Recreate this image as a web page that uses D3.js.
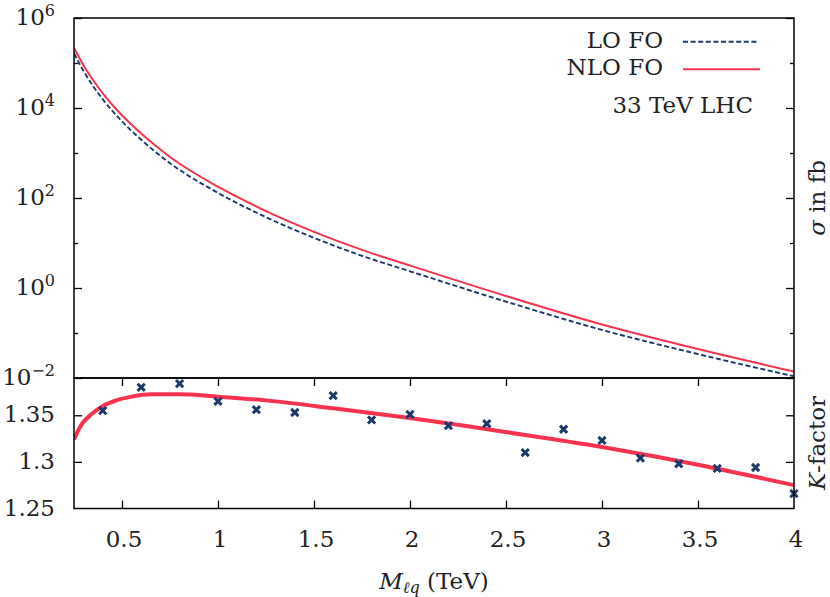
<!DOCTYPE html>
<meta charset="utf-8">
<head>
    <script type="text/javascript" src="https://cdn.jsdelivr.net/npm/d3@7"></script>
    <style>
        body { margin: 0; background: #fff; }
        .tick line { stroke: #000; stroke-width: 1.3; }
    </style>
</head>
<body>
<div id="chart"></div>
</body>
<script>

    // cross sections in fb
    var massPts  = [0.25, 0.3, 0.35, 0.4, 0.5, 0.6, 0.75, 1.0, 1.25, 1.5, 1.75, 2.0, 2.5, 3.0, 3.5, 4.0];
    var sigmaNLO = [2.15e5, 8.85e4, 4.13e4, 2.12e4, 6.88e3, 2.70e3, 815, 178, 51.2, 17.7, 7.03, 3.16, 0.664, 0.155, 0.0441, 0.0139];
    var sigmaLO  = [1.63e5, 6.59e4, 3.05e4, 1.56e4, 5.04e3, 1.97e3, 594, 130, 37.5, 13.0, 5.19, 2.35, 0.498, 0.117, 0.0340, 0.0109];

    // K-factor curve and points, lower panel
    var kCurveMass = [0.25, 0.28, 0.3, 0.34, 0.4, 0.47, 0.55, 0.65, 0.8, 1.0, 1.25, 1.6, 2.0, 2.5, 3.0, 3.5, 4.0];
    var kCurve     = [1.324, 1.337, 1.343, 1.351, 1.360, 1.366, 1.370, 1.3725, 1.3725, 1.370, 1.366, 1.3575, 1.347, 1.332, 1.316, 1.297, 1.275];
    var kPointMass = [0.4, 0.6, 0.8, 1.0, 1.2, 1.4, 1.6, 1.8, 2.0, 2.2, 2.4, 2.6, 2.8, 3.0, 3.2, 3.4, 3.6, 3.8, 4.0];
    var kPoints    = [1.355, 1.380, 1.384, 1.365, 1.356, 1.353, 1.371, 1.345, 1.351, 1.339, 1.341, 1.310, 1.335, 1.323, 1.304, 1.298, 1.293, 1.294, 1.266];

    // ticks
    var xTicks = [0.5, 1, 1.5, 2, 2.5, 3, 3.5, 4];
    var xTickLabels = ["0.5", "1", "1.5", "2", "2.5", "3", "3.5", "4"];
    var sigmaTicks = [1e-2, 1e0, 1e2, 1e4, 1e6];
    var sigmaTickExp = ["\u22122", "0", "2", "4", "6"];
    var sigmaMinor = [1e-1, 1e1, 1e3, 1e5];
    var kTicks = [1.25, 1.3, 1.35];
    var kTickLabels = ["1.25", "1.3", "1.35"];

    var width = 830, height = 597;
    var padL = 74, padR = 794, padT = 18, split = 378, padB = 508.5;

    var red = "#f7334f", navy = "#1b3a6b";
    var serif = "'DejaVu Serif', 'Liberation Serif', serif";
    var fs = "23px", fsSmall = "16px";

    var svg = d3.select("#chart").append("svg")
        .attr("width", width)
        .attr("height", height)
        .attr("font-family", serif)
        .style("font-family", serif)
        .style("fill", "#222");

    var x = d3.scaleLinear().domain([0.25, 4]).range([padL, padR]);
    var ySig = d3.scaleLog().domain([1e-2, 1e6]).range([split, padT]);
    var yK = d3.scaleLinear().domain([1.25, 1.39]).range([padB, split]);

    svg.append("clipPath").attr("id", "clipTop")
        .append("rect").attr("x", padL).attr("y", padT).attr("width", padR - padL).attr("height", split - padT);
    svg.append("clipPath").attr("id", "clipBot")
        .append("rect").attr("x", padL).attr("y", split).attr("width", padR - padL).attr("height", padB - split);

    // ---- axes ticks
    function ticksOnly(g) { g.select(".domain").remove(); }

    svg.append("g").attr("transform", "translate(" + padL + ",0)")
        .call(d3.axisLeft(ySig).tickValues(sigmaTicks).tickSize(-8).tickFormat("")).call(ticksOnly);
    svg.append("g").attr("transform", "translate(" + padL + ",0)")
        .call(d3.axisLeft(ySig).tickValues(sigmaMinor).tickSize(-4).tickFormat("")).call(ticksOnly);
    svg.append("g").attr("transform", "translate(" + padR + ",0)")
        .call(d3.axisRight(ySig).tickValues(sigmaTicks).tickSize(-8).tickFormat("")).call(ticksOnly);
    svg.append("g").attr("transform", "translate(" + padR + ",0)")
        .call(d3.axisRight(ySig).tickValues(sigmaMinor).tickSize(-4).tickFormat("")).call(ticksOnly);

    svg.append("g").attr("transform", "translate(" + padL + ",0)")
        .call(d3.axisLeft(yK).tickValues([1.3, 1.35]).tickSize(-8).tickFormat("")).call(ticksOnly);
    svg.append("g").attr("transform", "translate(" + padR + ",0)")
        .call(d3.axisRight(yK).tickValues([1.3, 1.35]).tickSize(-8).tickFormat("")).call(ticksOnly);

    svg.append("g").attr("transform", "translate(0," + padB + ")")
        .call(d3.axisBottom(x).tickValues(xTicks.slice(0, -1)).tickSize(-8).tickFormat("")).call(ticksOnly);
    svg.append("g").attr("transform", "translate(0," + split + ")")
        .call(d3.axisTop(x).tickValues(xTicks.slice(0, -1)).tickSize(-8).tickFormat("")).call(ticksOnly);

    // ---- tick labels
    var sigLab = svg.append("g").selectAll("text").data(sigmaTicks).enter().append("text")
        .attr("x", 55).attr("y", d => ySig(d) + 7)
        .attr("text-anchor", "end").style("font-size", fs);
    sigLab.append("tspan").text("10");
    sigLab.append("tspan").attr("dy", -9).style("font-size", fsSmall).text((d, i) => sigmaTickExp[i]);

    svg.append("g").selectAll("text").data(kTicks).enter().append("text")
        .attr("x", 55).attr("y", d => yK(d) + 7)
        .attr("text-anchor", "end").style("font-size", fs)
        .text((d, i) => kTickLabels[i]);

    svg.append("g").selectAll("text").data(xTicks).enter().append("text")
        .attr("x", d => x(d) + 2).attr("y", 546.5)
        .attr("text-anchor", "middle").style("font-size", fs)
        .text((d, i) => xTickLabels[i]);

    // ---- curves
    var sigLine = d3.line().curve(d3.curveMonotoneX)
        .x((d, i) => x(massPts[i])).y(d => ySig(d));

    svg.append("path").datum(sigmaLO)
        .attr("clip-path", "url(#clipTop)")
        .attr("d", sigLine)
        .attr("fill", "none").attr("stroke", navy).attr("stroke-width", 1.9)
        .attr("stroke-dasharray", "5,2.6");

    svg.append("path").datum(sigmaNLO)
        .attr("clip-path", "url(#clipTop)")
        .attr("d", sigLine)
        .attr("fill", "none").attr("stroke", red).attr("stroke-width", 2);

    var kLine = d3.line().curve(d3.curveMonotoneX)
        .x((d, i) => x(kCurveMass[i])).y(d => yK(d));

    svg.append("path").datum(kCurve)
        .attr("clip-path", "url(#clipBot)")
        .attr("d", kLine)
        .attr("fill", "none").attr("stroke", red).attr("stroke-width", 4);

    var s = 3.6;
    svg.append("g").selectAll("path").data(kPoints).enter().append("path")
        .attr("transform", (d, i) => "translate(" + x(kPointMass[i]) + "," + yK(d) + ")")
        .attr("d", "M" + (-s) + "," + (-s) + "L" + s + "," + s + "M" + (-s) + "," + s + "L" + s + "," + (-s))
        .attr("stroke", navy).attr("stroke-width", 3).attr("fill", "none");

    // ---- frames
    svg.append("rect").attr("x", padL).attr("y", padT).attr("width", padR - padL).attr("height", split - padT)
        .attr("fill", "none").attr("stroke", "#000").attr("stroke-width", 1.5);
    svg.append("rect").attr("x", padL).attr("y", split).attr("width", padR - padL).attr("height", padB - split)
        .attr("fill", "none").attr("stroke", "#000").attr("stroke-width", 1.5);

    // ---- legend
    svg.append("text").attr("x", 663).attr("y", 48).attr("text-anchor", "end")
        .style("font-size", fs).text("LO FO");
    svg.append("line").attr("x1", 683).attr("x2", 758).attr("y1", 41.7).attr("y2", 41.7)
        .attr("stroke", navy).attr("stroke-width", 1.9).attr("stroke-dasharray", "5,2.6");
    svg.append("text").attr("x", 663).attr("y", 75).attr("text-anchor", "end")
        .style("font-size", fs).text("NLO FO");
    svg.append("line").attr("x1", 683).attr("x2", 760).attr("y1", 69.3).attr("y2", 69.3)
        .attr("stroke", red).attr("stroke-width", 2);
    svg.append("text").attr("x", 753).attr("y", 113).attr("text-anchor", "end")
        .style("font-size", fs).text("33 TeV LHC");

    // ---- axis titles
    var xt = svg.append("text").attr("x", 434).attr("y", 589).attr("text-anchor", "middle")
        .style("font-size", fs);
    xt.append("tspan").style("font-style", "italic").text("M");
    xt.append("tspan").attr("dy", 4).style("font-style", "italic").style("font-size", fsSmall).text("\u2113q");
    xt.append("tspan").attr("dy", -4).text(" (TeV)");

    var st = svg.append("text").attr("transform", "translate(825,198) rotate(-90)")
        .attr("text-anchor", "middle").style("font-size", fs);
    st.append("tspan").style("font-style", "italic").text("\u03c3");
    st.append("tspan").text(" in fb");

    var kt = svg.append("text").attr("transform", "translate(825,443) rotate(-90)")
        .attr("text-anchor", "middle").style("font-size", fs);
    kt.append("tspan").style("font-style", "italic").text("K");
    kt.append("tspan").text("-factor");

</script>
</html>
